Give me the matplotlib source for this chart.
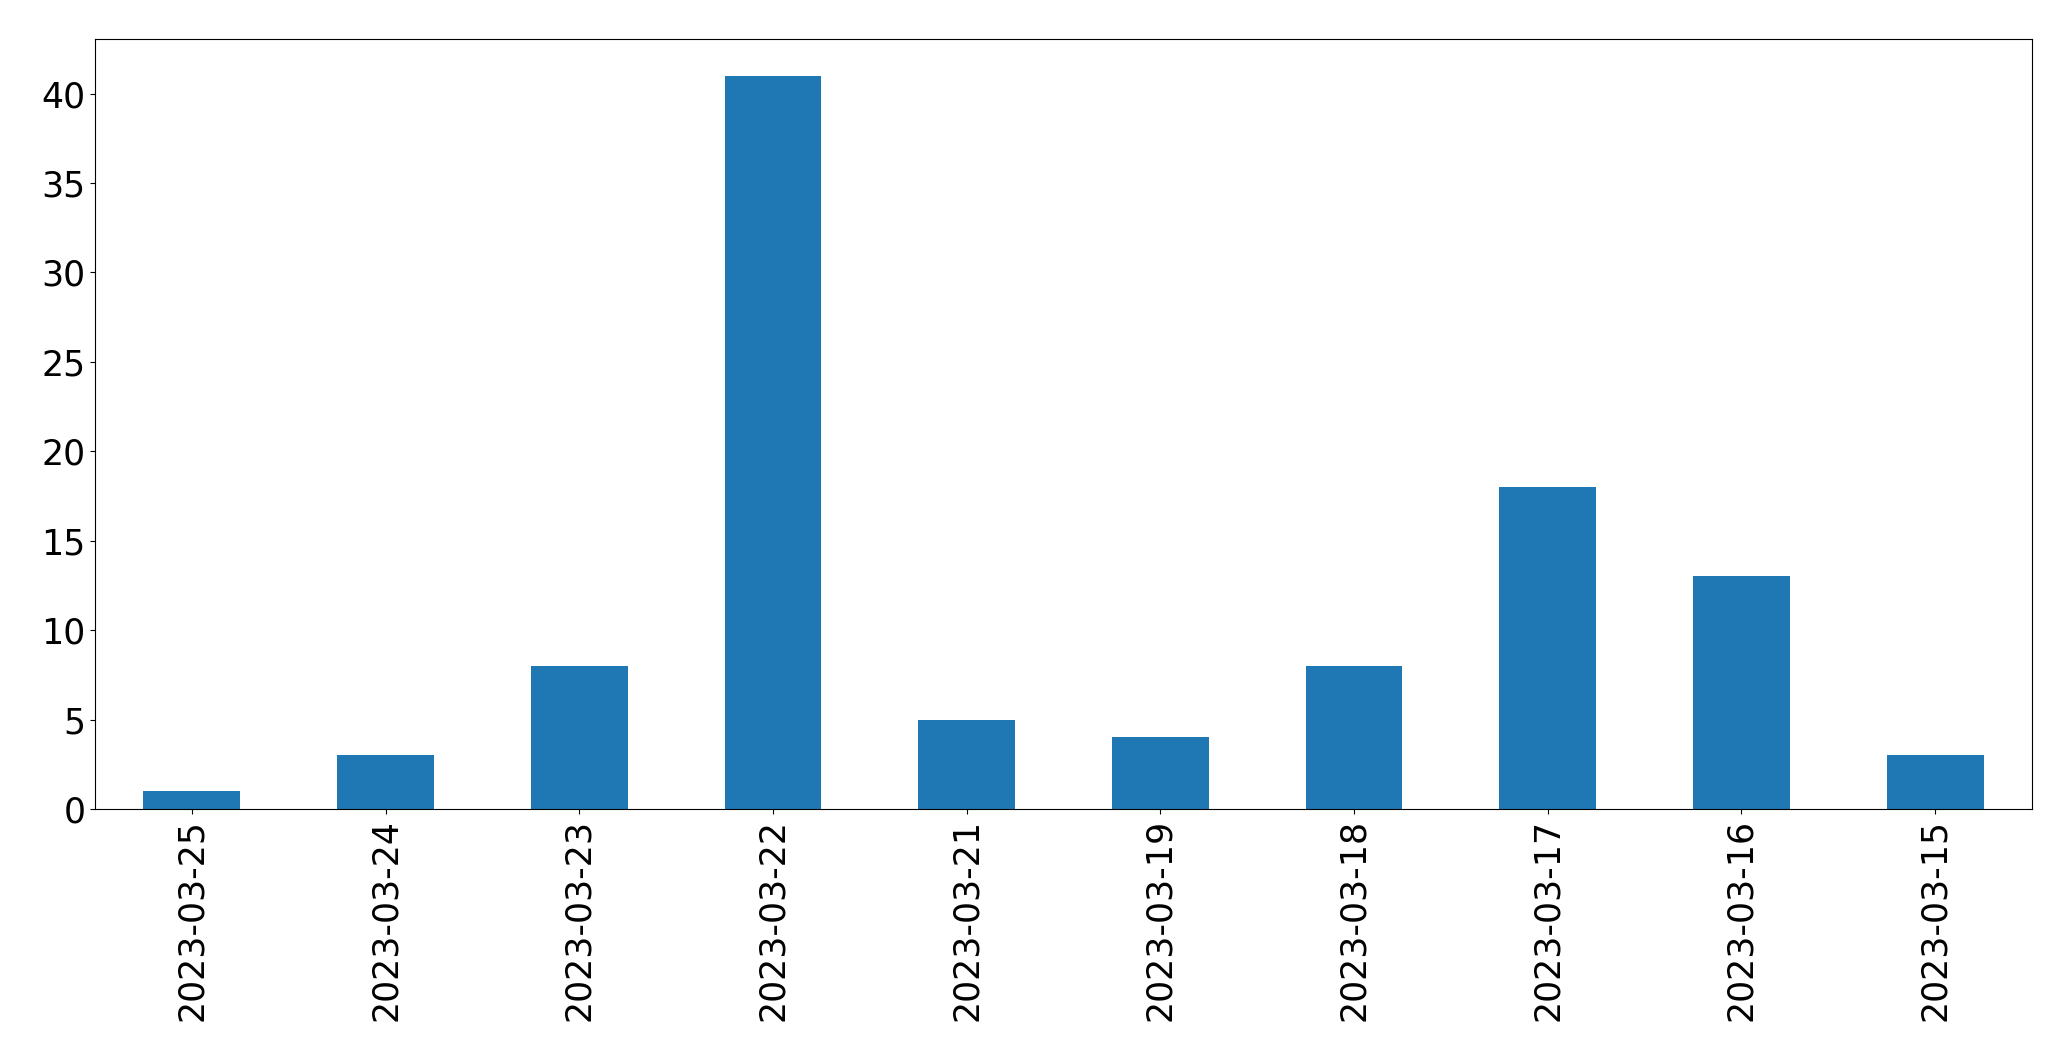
import matplotlib
matplotlib.use("Agg")
import matplotlib.pyplot as plt
import numpy as np

dates = ["2023-03-25", "2023-03-24", "2023-03-23", "2023-03-22", "2023-03-21",
         "2023-03-19", "2023-03-18", "2023-03-17", "2023-03-16", "2023-03-15"]
counts = [1, 3, 8, 41, 5, 4, 8, 18, 13, 3]

fig = plt.figure(figsize=(20.71, 10.61), dpi=100)
ax = fig.add_axes([95/2071, 1 - 809/1061, (2032-95)/2071, (809-39)/1061])
x = np.arange(len(dates))
ax.bar(x, counts, width=0.5, color="#1f77b4")
ax.set_xlim(-0.5, len(dates) - 0.5)
ax.set_xticks(x)
ax.set_xticklabels(dates, rotation=90, fontsize=25)
ax.set_yticks([0, 5, 10, 15, 20, 25, 30, 35, 40])
ax.tick_params(axis="y", labelsize=25)
ax.set_ylim(0, 43.05)
fig.savefig("out.png", dpi=100)
